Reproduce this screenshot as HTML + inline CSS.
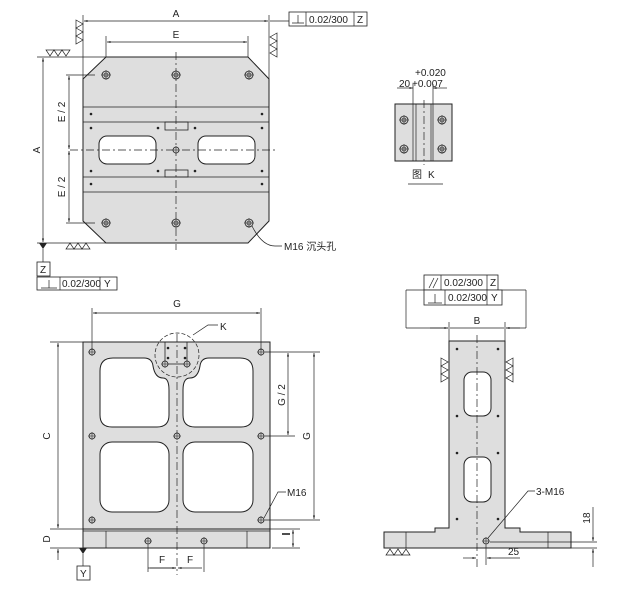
<!DOCTYPE html>
<html><head><meta charset="utf-8"><style>
html,body{margin:0;padding:0;background:#fff}
svg{display:block}
text{font-family:"Liberation Sans","Noto Sans CJK SC",sans-serif;font-size:10px;fill:#222}
.p{fill:#dedede;stroke:#222;stroke-width:1}
.l{stroke:#222;stroke-width:0.7;fill:none}
.w{fill:#fff;stroke:#222;stroke-width:1}
.c{stroke:#222;stroke-width:0.7;stroke-dasharray:8 3 2 3;fill:none}
.d{fill:#222}
</style></head><body>
<svg width="618" height="591" viewBox="0 0 618 591" xmlns="http://www.w3.org/2000/svg">
<defs>
<marker id="a" viewBox="0 0 10 10" refX="10" refY="5" markerWidth="7" markerHeight="5" orient="auto-start-reverse"><path d="M0,2 L10,5 L0,8 z" fill="#222"/></marker>
<g id="h"><circle r="4" fill="#ccc" stroke="#222" stroke-width="0.8"/><circle r="2" fill="none" stroke="#222" stroke-width="0.6"/><path d="M-5,0H5M0,-5V5" stroke="#222" stroke-width="0.5"/></g>
<g id="s"><circle r="3" fill="#ccc" stroke="#222" stroke-width="0.8"/><path d="M-4,0H4M0,-4V4" stroke="#222" stroke-width="0.5"/></g>
<path id="tv" d="M0,0L7,4L0,8Z" fill="#fff" stroke="#222" stroke-width="0.7"/>
<path id="tvl" d="M7,0L0,4L7,8Z" fill="#fff" stroke="#222" stroke-width="0.7"/>
<path id="th" d="M0,0L8,0L4,6Z" fill="#fff" stroke="#222" stroke-width="0.7"/>
<path id="tu" d="M0,6L8,6L4,0Z" fill="#fff" stroke="#222" stroke-width="0.7"/>
</defs>

<!-- TOP VIEW -->
<polygon class="p" points="106,57 248,57 269,79 269,221 248,243 106,243 83,221 83,79"/>
<path class="l" d="M83,107H269M83,122H269M83,177H269M83,192H269"/>
<rect x="165" y="122" width="23" height="8" fill="none" stroke="#222" stroke-width="0.8"/>
<rect x="165" y="170" width="23" height="7" fill="none" stroke="#222" stroke-width="0.8"/>
<rect class="w" x="99" y="136" width="57" height="28" rx="8"/>
<rect class="w" x="198" y="136" width="57" height="28" rx="8"/>
<path class="c" d="M176,52V250M70,150H275"/>
<use href="#h" x="106" y="75"/><use href="#h" x="176" y="75"/><use href="#h" x="249" y="75"/>
<use href="#h" x="106" y="223"/><use href="#h" x="176" y="223"/><use href="#h" x="249" y="223"/>
<use href="#s" x="176" y="150"/>
<g class="d"><circle cx="91" cy="114" r="1.3"/><circle cx="262" cy="114" r="1.3"/>
<circle cx="91" cy="128" r="1.3"/><circle cx="158" cy="128" r="1.3"/><circle cx="195" cy="128" r="1.3"/><circle cx="262" cy="128" r="1.3"/>
<circle cx="91" cy="171" r="1.3"/><circle cx="158" cy="171" r="1.3"/><circle cx="195" cy="171" r="1.3"/><circle cx="262" cy="171" r="1.3"/>
<circle cx="91" cy="184" r="1.3"/><circle cx="262" cy="184" r="1.3"/></g>
<!-- dims top -->
<path class="l" d="M83,15V79M269,15V79M106,36V57M248,36V57"/>
<path class="l" d="M84,21H268" marker-start="url(#a)" marker-end="url(#a)"/>
<path class="l" d="M107,42H247" marker-start="url(#a)" marker-end="url(#a)"/>
<text x="176" y="17" text-anchor="middle">A</text>
<text x="176" y="38" text-anchor="middle">E</text>
<path class="l" d="M270,21H289"/>
<rect x="289" y="12" width="78" height="14" fill="none" stroke="#222" stroke-width="0.8"/>
<path class="l" d="M306,12V26M354,12V26M292,23H304M298,15V23"/>
<text x="309" y="23" font-size="9">0.02/300</text><text x="357" y="23" font-size="9">Z</text>
<!-- left dims -->
<path class="l" d="M37,57H106M37,243H106M66,75H95M66,223H95"/>
<path class="l" d="M43,58V242" marker-start="url(#a)" marker-end="url(#a)"/>
<path class="l" d="M69,76V149" marker-start="url(#a)" marker-end="url(#a)"/>
<path class="l" d="M69,151V222" marker-start="url(#a)" marker-end="url(#a)"/>
<text transform="translate(40,150) rotate(-90)" text-anchor="middle">A</text>
<text transform="translate(65,112) rotate(-90)" text-anchor="middle">E / 2</text>
<text transform="translate(65,187) rotate(-90)" text-anchor="middle">E / 2</text>
<!-- roughness -->
<use href="#tv" x="76" y="20"/><use href="#tv" x="76" y="28"/><use href="#tv" x="76" y="36"/>
<use href="#th" x="46" y="50"/><use href="#th" x="54" y="50"/><use href="#th" x="62" y="50"/>
<use href="#tvl" x="270" y="33"/><use href="#tvl" x="270" y="41"/><use href="#tvl" x="270" y="49"/>
<use href="#tu" x="66" y="243"/><use href="#tu" x="74" y="243"/><use href="#tu" x="82" y="243"/>
<path class="d" d="M39,243H47L43,249Z"/>
<path class="l" d="M43,249V262"/>
<rect x="37" y="262" width="13" height="14" fill="none" stroke="#222" stroke-width="0.8"/><text x="40" y="273" font-size="9">Z</text>
<rect x="37" y="277" width="80" height="13" fill="none" stroke="#222" stroke-width="0.8"/>
<path class="l" d="M60,277V290M100,277V290M41,288H57M49,280V288"/>
<text x="62" y="287" font-size="9">0.02/300</text><text x="104" y="287" font-size="9">Y</text>
<path class="l" d="M252,226Q262,246 275,246H282"/>
<text x="284" y="250">M16 沉头孔</text>

<!-- K VIEW -->
<rect class="p" x="395" y="104" width="57" height="57"/>
<path class="l" d="M413,104V161M416,104V161M431,104V161M433,104V161"/>
<path class="c" d="M424,100V165"/>
<use href="#h" x="404" y="120"/><use href="#h" x="404" y="149"/><use href="#h" x="442" y="120"/><use href="#h" x="442" y="149"/>
<path class="l" d="M413,84V104M433,84V104"/>
<path class="l" d="M397,88H413" marker-end="url(#a)"/><path class="l" d="M447,88H433" marker-end="url(#a)"/>
<text x="399" y="87">20</text><text x="415" y="76" font-size="9">+0.020</text><text x="412" y="87" font-size="9">+0.007</text>
<text x="412" y="178" fill="#1a4aa0">图</text><text x="428" y="178">K</text>
<path class="l" d="M408,184H443"/>

<!-- FRONT VIEW -->
<rect class="p" x="83" y="342" width="187" height="187"/>
<rect class="p" x="83" y="529" width="187" height="19"/>
<path class="l" d="M83,531H270M106,531V548M247,531V548"/>
<path class="w" d="M113,358H144Q152,358 153,366Q155,378 163,378Q169,378 169,390V415Q169,427 157,427H112Q100,427 100,415V371Q100,358 113,358Z"/>
<path class="w" d="M240,358H209Q201,358 200,366Q198,378 190,378Q183,378 183,390V415Q183,427 195,427H241Q253,427 253,415V371Q253,358 240,358Z"/>
<rect class="w" x="100" y="442" width="69" height="70" rx="12"/>
<rect class="w" x="183" y="442" width="70" height="70" rx="12"/>
<path class="c" d="M177,334V575"/>
<circle cx="177" cy="355" r="22" fill="none" stroke="#222" stroke-width="0.7" stroke-dasharray="4 2"/>
<rect x="165" y="342" width="22" height="22" fill="none" stroke="#222" stroke-width="0.8"/>
<g class="d"><circle cx="168" cy="348" r="1.3"/><circle cx="185" cy="348" r="1.3"/><circle cx="168" cy="358" r="1.3"/><circle cx="185" cy="358" r="1.3"/></g>
<use href="#s" x="165" y="364"/><use href="#s" x="187" y="364"/>
<use href="#s" x="92" y="352"/><use href="#s" x="261" y="352"/>
<use href="#s" x="92" y="436"/><use href="#s" x="177" y="436"/><use href="#s" x="261" y="436"/>
<use href="#s" x="92" y="520"/><use href="#s" x="261" y="520"/>
<use href="#s" x="148" y="541"/><use href="#s" x="204" y="541"/>
<path class="l" d="M193,335L208,325H218"/><text x="220" y="330">K</text>
<path class="l" d="M92,308V350M261,308V350"/>
<path class="l" d="M93,313H260" marker-start="url(#a)" marker-end="url(#a)"/>
<text x="177" y="307" text-anchor="middle">G</text>
<path class="l" d="M50,342H83M50,529H83M265,352H320M265,436H295M265,520H320M270,529H300"/>
<path class="l" d="M58,343V528" marker-start="url(#a)" marker-end="url(#a)"/>
<path class="l" d="M58,560V549" marker-end="url(#a)"/>
<path class="l" d="M50,548H83"/>
<text transform="translate(50,436) rotate(-90)" text-anchor="middle">C</text>
<text transform="translate(50,539) rotate(-90)" text-anchor="middle">D</text>
<path class="l" d="M288,353V435" marker-start="url(#a)" marker-end="url(#a)"/>
<path class="l" d="M314,353V519" marker-start="url(#a)" marker-end="url(#a)"/>
<text transform="translate(285,395) rotate(-90)" text-anchor="middle">G / 2</text>
<text transform="translate(310,436) rotate(-90)" text-anchor="middle">G</text>
<path class="l" d="M293,530V547" marker-start="url(#a)" marker-end="url(#a)"/>
<path class="l" d="M272,548H300"/>
<path d="M282,534H290" stroke="#222" stroke-width="1.6"/>
<path class="l" d="M264,518L278,492H286"/><text x="287" y="496">M16</text>
<path class="d" d="M79,548H87L83,554Z"/><path class="l" d="M83,554V566"/>
<rect x="77" y="566" width="13" height="14" fill="none" stroke="#222" stroke-width="0.8"/><text x="80" y="577" font-size="9">Y</text>
<path class="l" d="M148,545V572M204,545V572"/>
<path class="l" d="M150,568H176" marker-end="url(#a)"/><path class="l" d="M202,568H178" marker-end="url(#a)"/>
<path class="l" d="M148,568H176"/>
<text x="162" y="563" text-anchor="middle">F</text><text x="190" y="563" text-anchor="middle">F</text>

<!-- SIDE VIEW -->
<path class="p" d="M449,341H505V528H520V532H571V548H384V532H435V528H449Z"/>
<path class="l" d="M406,532V548M548,532V548"/>
<rect class="w" x="464" y="372" width="27" height="44" rx="8"/>
<rect class="w" x="464" y="457" width="27" height="45" rx="8"/>
<path class="c" d="M477,335V568"/>
<g class="d"><circle cx="457" cy="349" r="1.3"/><circle cx="498" cy="349" r="1.3"/><circle cx="457" cy="416" r="1.3"/><circle cx="498" cy="416" r="1.3"/>
<circle cx="457" cy="453" r="1.3"/><circle cx="498" cy="453" r="1.3"/><circle cx="457" cy="519" r="1.3"/><circle cx="498" cy="519" r="1.3"/></g>
<use href="#s" x="486" y="541"/>
<use href="#tv" x="441" y="358"/><use href="#tv" x="441" y="366"/><use href="#tv" x="441" y="374"/>
<use href="#tvl" x="506" y="358"/><use href="#tvl" x="506" y="366"/><use href="#tvl" x="506" y="374"/>
<use href="#tu" x="386" y="549"/><use href="#tu" x="394" y="549"/><use href="#tu" x="402" y="549"/>
<path class="l" d="M488,538L528,491H535"/><text x="536" y="495">3-M16</text>
<path class="l" d="M486,545V565M490,542H597M571,548H597"/>
<path class="l" d="M463,558H476" marker-end="url(#a)"/><path class="l" d="M520,558H487" marker-end="url(#a)"/>
<text x="508" y="555">25</text>
<path class="l" d="M593,507V541" marker-end="url(#a)"/><path class="l" d="M593,567V549" marker-end="url(#a)"/>
<text transform="translate(590,518) rotate(-90)" text-anchor="middle">18</text>
<path class="l" d="M449,322V341M505,322V341M406,290H526M406,290V328M526,290V328M406,328H448M526,328H506"/>
<path class="l" d="M430,328H448" marker-end="url(#a)"/><path class="l" d="M520,328H506" marker-end="url(#a)"/>
<path class="l" d="M450,328H504"/>
<text x="477" y="324" text-anchor="middle">B</text>
<rect x="424" y="275" width="74" height="15" fill="#fff" stroke="#222" stroke-width="0.8"/>
<path class="l" d="M441,275V290M487,275V290M429,288L434,278M433,288L438,278"/>
<text x="444" y="286" font-size="9">0.02/300</text><text x="490" y="286" font-size="9">Z</text>
<rect x="424" y="290" width="78" height="15" fill="#fff" stroke="#222" stroke-width="0.8"/>
<path class="l" d="M445,290V305M487,290V305M428,303H442M435,294V303"/>
<text x="448" y="301" font-size="9">0.02/300</text><text x="491" y="301" font-size="9">Y</text>
</svg>
</body></html>
